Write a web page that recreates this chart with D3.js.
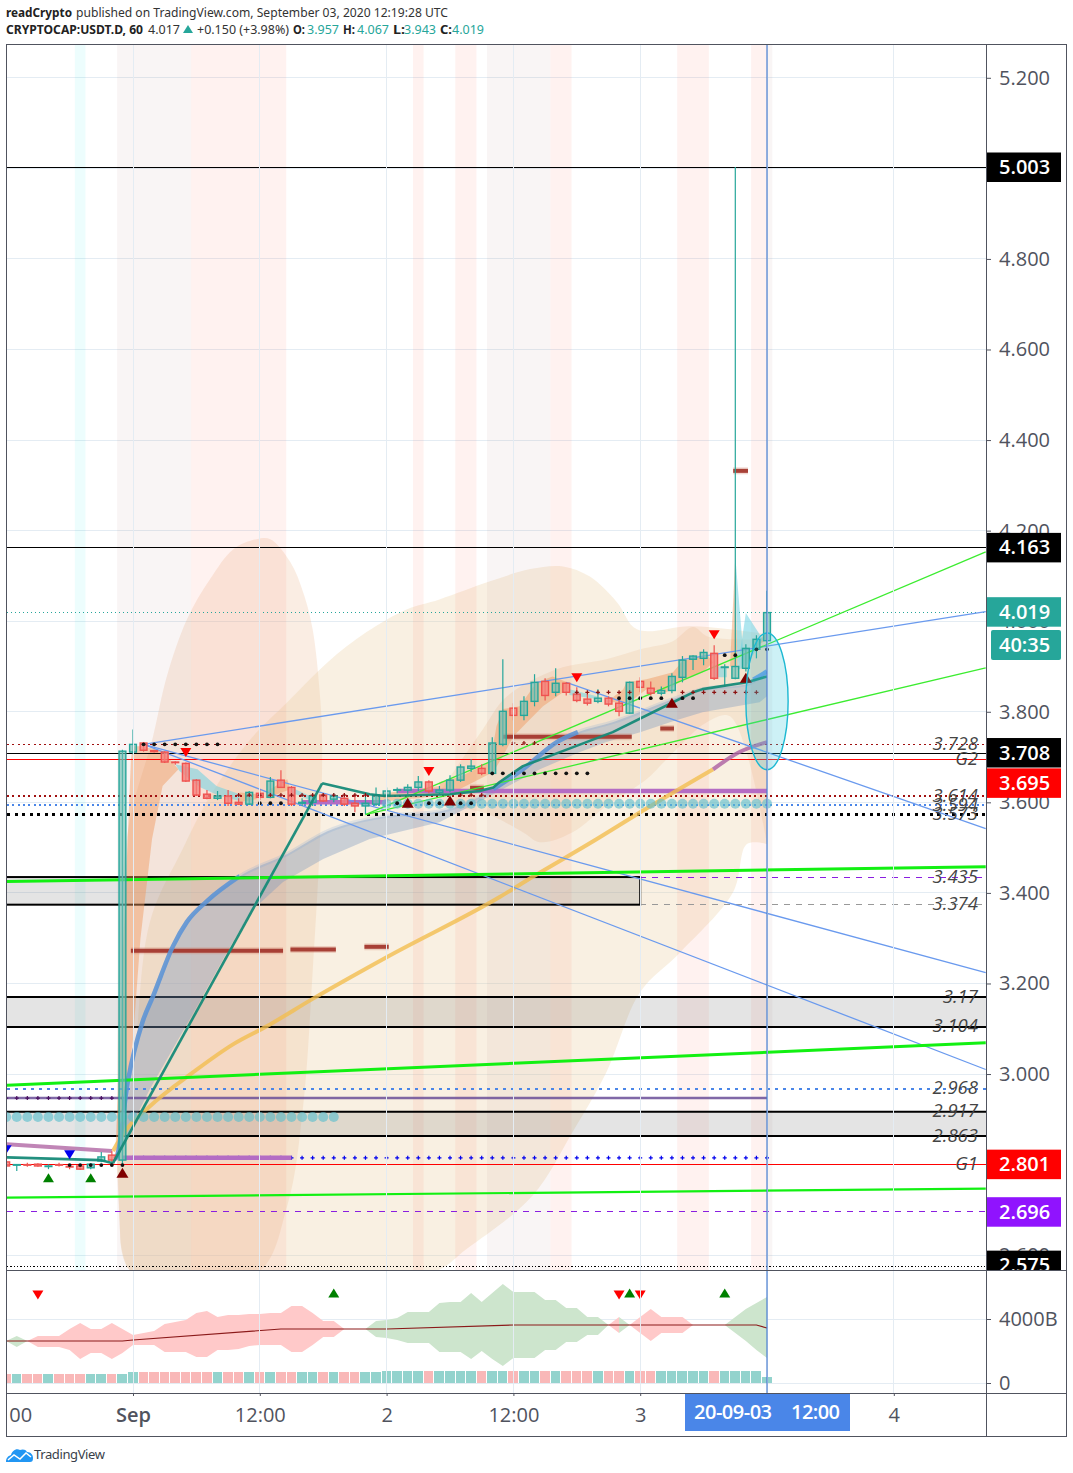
<!DOCTYPE html>
<html><head><meta charset="utf-8">
<script src="https://cdn.jsdelivr.net/npm/d3@7"></script>
<style>html,body{margin:0;padding:0;background:#fff}svg{display:block}text{font-family:"Open Sans",sans-serif}</style>
</head><body><svg id="c" width="1073" height="1473"></svg>
<script>
// ---------- DATA ----------
const priceTicks=[5.2,5.0,4.8,4.6,4.4,4.2,4.0,3.8,3.6,3.4,3.2,3.0,2.8,2.6];
const hiddenTickLabels=[5.0,2.8];
const timeTicks=[-12,0,12,24,36,48,60,72];
const timeLabels=["12:00","Sep","12:00","2","12:00","3","12:00","4"];
const hours=d3.range(-12,61);
const opens=[2.806,2.799,2.800,2.801,2.796,2.800,2.796,2.797,2.793,2.808,2.821,2.810,3.711,3.731,3.714,3.711,3.689,3.686,3.649,3.618,3.609,3.614,3.600,3.596,3.620,3.611,3.649,3.633,3.598,3.600,3.616,3.607,3.609,3.598,3.592,3.596,3.616,3.627,3.627,3.633,3.645,3.622,3.627,3.649,3.675,3.675,3.664,3.728,3.808,3.792,3.823,3.867,3.843,3.863,3.839,3.828,3.823,3.830,3.819,3.797,3.867,3.852,3.841,3.847,3.876,3.916,3.918,3.929,3.898,3.874,3.896,3.938,3.957];
const highs=[2.808,2.801,2.804,2.803,2.801,2.804,2.801,2.799,2.803,2.828,2.830,3.716,3.761,3.733,3.716,3.713,3.691,3.688,3.651,3.627,3.625,3.627,3.609,3.625,3.629,3.656,3.671,3.636,3.609,3.618,3.620,3.620,3.620,3.618,3.616,3.633,3.633,3.633,3.640,3.658,3.649,3.636,3.660,3.684,3.695,3.684,3.744,3.916,3.819,3.834,3.883,3.874,3.896,3.865,3.854,3.839,3.850,3.834,3.828,3.867,3.876,3.867,3.856,3.885,3.923,3.925,3.938,3.947,3.905,5.003,3.949,3.969,4.067];
const lows=[2.795,2.786,2.795,2.795,2.790,2.796,2.790,2.788,2.790,2.805,2.806,2.800,3.706,3.712,3.710,3.687,3.683,3.645,3.614,3.607,3.605,3.592,3.594,3.594,3.605,3.609,3.632,3.592,3.592,3.592,3.601,3.600,3.592,3.578,3.574,3.592,3.600,3.620,3.618,3.625,3.620,3.618,3.622,3.645,3.667,3.660,3.660,3.724,3.781,3.781,3.812,3.825,3.834,3.836,3.821,3.814,3.819,3.812,3.790,3.795,3.843,3.836,3.836,3.841,3.865,3.892,3.903,3.870,3.856,3.872,3.889,3.918,3.943];
const closes=[2.797,2.800,2.799,2.797,2.797,2.799,2.795,2.790,2.801,2.817,2.810,3.713,3.728,3.715,3.712,3.689,3.688,3.647,3.616,3.609,3.614,3.598,3.596,3.622,3.611,3.647,3.633,3.596,3.600,3.614,3.603,3.614,3.596,3.592,3.598,3.616,3.625,3.628,3.633,3.645,3.625,3.627,3.649,3.678,3.680,3.664,3.731,3.801,3.792,3.823,3.865,3.836,3.863,3.843,3.825,3.819,3.830,3.817,3.801,3.865,3.854,3.841,3.847,3.878,3.914,3.923,3.931,3.874,3.899,3.900,3.940,3.960,4.019];
const volumes=[580,580,580,580,580,580,580,580,580,580,580,580,710,710,710,710,710,710,710,710,710,710,710,710,710,710,710,710,710,710,710,710,710,710,710,710,750,750,750,750,750,750,750,750,750,750,750,750,750,750,750,750,750,750,750,750,750,750,750,750,750,750,750,750,750,750,750,750,750,750,750,750,375];
const flowUpper=[2625,2938,2625,2938,2938,2938,3375,3750,3375,3375,3750,3375,3000,3125,3250,3688,3813,3938,4375,4500,4125,4250,4250,4313,4313,4375,4375,4813,4813,4375,3875,3875,3375,3375,3375,3875,3938,4063,4438,4438,4438,5000,5063,5063,5625,5063,5625,6188,5688,5688,5688,5188,5188,4688,4688,4125,4125,3625,4125,3625,4125,4625,4125,4125,4125,3625,3625,3625,3625,4125,4625,5000,5375];
const flowLower=[2625,2250,2625,2250,2250,2250,2063,1500,1875,1875,1500,1875,2375,2375,2375,1938,1938,1938,1625,1625,2063,2063,2125,2313,2375,2375,2375,1938,1938,2375,2875,2875,3375,3375,3375,2875,2813,2688,2500,2500,2500,1938,1938,1938,1500,2000,1500,1063,1563,1563,1563,2063,2063,2563,2563,3000,3000,3625,3125,3625,3125,2625,3125,3125,3125,3625,3625,3625,3625,3125,2625,2063,1563];
const flowRedRanges=[[-10,20],[45,46],[47,53]];
const flowGreenRanges=[[-12,-10],[22,45],[46,47],[56,60]];
const flowLine=[[-12,2625],[-1,2625],[0,2688],[14,3375],[24,3375],[36,3625],[59,3625],[60,3437]];
const flowMarksDown=[[-9,5500],[46,5500],[48,5500]];
const flowMarksUp=[[19,5625],[47,5625],[56,5625]];

const pinkStripes=[[5.5,14.5],[26.5,27.5],[30.5,32.5],[39.5,41.5],[51.5,54.5],[58.5,60]];
const grayStripes=[[-1.5,5.5],[33.5,39.5],[60,60.5]];
const cyanStripes=[[-5.5,-4.5]];

const cloudTall=[[-1.5,2.784],[-0.6,3.519],[1.9,3.746],[3.2,3.878],[5.1,4.004],[7.3,4.093],[9.5,4.159],[11.7,4.181],[13,4.181],[14.9,4.13],[16.1,4.064],[17,3.982],[17.7,3.834],[17.9,3.733],[17.7,3.519],[17,3.225],[16.1,2.929],[14.6,2.709],[11.7,2.56],[0,2.56],[-1.2,2.636]];
const cloudWideTop=[[-1.5,2.819],[0,3.004],[1.6,3.336],[4.7,3.497],[7.3,3.614],[11.1,3.739],[14.6,3.821],[18.4,3.909],[22.1,3.976],[25.9,4.026],[29,4.048],[33.8,4.088],[37.6,4.115],[40.7,4.121],[43.2,4.099],[45.8,4.042],[47.7,3.982],[52.7,3.989],[56.5,3.982],[60,3.971]];
const cloudWideBottom=[[60,3.508],[58.1,3.508],[56.8,3.402],[51.8,3.269],[48,3.181],[44.8,3.004],[41.6,2.872],[37.8,2.731],[31.6,2.614],[28.1,2.56],[0,2.56],[-1.2,2.636]];
const cloudInnerTop=[[29,3.622],[33.1,3.761],[35.4,3.834],[40.1,3.894],[44.8,3.916],[48,3.938],[51.1,3.956],[53,3.987],[54.3,3.967],[56.8,3.96],[60,3.96]];
const cloudInnerBottom=[[60,3.508],[56.5,3.79],[54.3,3.777],[50.5,3.695],[48.6,3.651],[44.8,3.592],[41.6,3.534],[38.5,3.512],[36.9,3.534],[33.1,3.578],[29,3.592]];
const orangeFans=[
 [[-1.7,2.812],[-1.2,3.077],[-0.9,3.298],[-0.5,3.519],[-0.2,3.695],[0,3.724],[0.9,3.724],[2.8,3.713],[4.3,3.673],[2.8,3.636],[1.8,3.519],[0.7,3.298],[0,3.077],[-1.4,2.812]],
 [[10.1,3.622],[11.7,3.618],[11.7,3.607],[10.1,3.6]],
 [[12.7,3.625],[14.6,3.651],[14.9,3.629],[13.2,3.614]],
 [[23.1,3.618],[29,3.636],[29,3.614],[23.1,3.6]],
 [[29,3.645],[30.9,3.656],[33.8,3.689],[34.4,3.768],[35,3.806],[36.6,3.812],[38.2,3.865],[39.7,3.878],[41.1,3.865],[41.1,3.85],[38.8,3.812],[37.6,3.784],[36,3.746],[35,3.702],[34.1,3.667],[30.9,3.629],[29,3.622]],
 [[44.8,3.821],[46.4,3.85],[46.7,3.865],[48.6,3.872],[51.1,3.887],[52,3.912],[54.3,3.927],[54.9,3.909],[53.9,3.887],[52,3.872],[50.5,3.843],[48.6,3.85],[47,3.821]],
 [[56.5,3.9],[57,4.143],[57.2,3.9]],
 [[58.6,3.938],[60,3.978],[60,3.96]]
];
const cyanFans=[
 [[4,3.684],[6.1,3.673],[7.9,3.636],[10.1,3.618],[10.1,3.603],[8.2,3.614],[6.3,3.634],[4.4,3.669]],
 [[15,3.633],[17.4,3.607],[17.4,3.598],[15,3.622]],
 [[41.3,3.85],[43.9,3.834],[43.9,3.828],[41.3,3.837]],
 [[54.9,3.903],[56.2,3.896],[56.2,3.876],[54.9,3.876]],
 [[57,4.143],[57.7,3.945],[57.2,3.9]],
 [[58,4.018],[59.6,3.96],[58,3.9],[57.2,3.892]]
];
const ribbonTop=[[-1.7,2.812],[-1.5,2.819],[-0.5,2.982],[0.9,3.115],[1.9,3.172],[3.8,3.283],[5.1,3.336],[7,3.382],[10.1,3.437],[14.6,3.486],[18.4,3.536],[23.7,3.569],[29,3.58],[34.1,3.629],[36.9,3.673],[40.1,3.733],[42.1,3.755],[45.4,3.777],[51.1,3.828],[53.9,3.85],[58.1,3.861],[60,3.89]];
const ribbonBottom=[[60,3.834],[59.3,3.821],[53.9,3.799],[51.1,3.779],[48,3.755],[44.8,3.733],[42.3,3.711],[38.5,3.673],[34.4,3.622],[29,3.556],[22.4,3.519],[18,3.475],[14.2,3.424],[11.1,3.358],[8.9,3.269],[6.3,3.159],[1.6,2.967],[-1.7,2.812]];
const blueStrong=[[-1.7,2.812],[-1.5,2.819],[-0.5,2.982],[0.9,3.115],[1.9,3.172],[3.8,3.283],[5.1,3.336],[7,3.382],[10.1,3.437]];
const blueMid=[[34.1,3.629],[36.9,3.673],[40.1,3.733],[42.1,3.755]];
const blueTail=[[58.7,3.871],[60,3.889]];
const tealLineFlat=[[-12,2.816],[-3.1,2.81],[-1.9,2.803]];
const tealLineRise=[[-1.9,2.803],[17.9,3.642]];
const tealLineRest=[[17.9,3.642],[22.4,3.618],[23.8,3.614],[30,3.618],[32.8,3.625],[34.1,3.633],[34.7,3.645],[36.9,3.68],[41.1,3.717],[45.4,3.755],[49.2,3.799],[53,3.843],[53.9,3.85],[58.1,3.865],[60,3.878]];
const yellowLine=[[-1.9,2.83],[-0.8,2.872],[1.6,2.929],[5.7,3.004],[9.5,3.066],[12.7,3.106],[17,3.166],[24,3.258],[34.7,3.391],[37.8,3.435],[43.9,3.519],[48,3.578],[54.9,3.673]];
const mauveEnd=[[54.9,3.673],[57.4,3.711],[60,3.733]];
const mauveStart=[[-12,2.845],[-2,2.83]];
const trendUp=[[1,3.728],[80.7,4.021]];
const trendDownA=[[1,3.728],[80.7,3.224]];
const trendDownB=[[1,3.728],[80.7,3.01]];
const trendDownC=[[41,3.865],[80.7,3.542]];
const greenThinA=[[22,3.573],[80.7,4.153]];
const greenThinB=[[22,3.573],[80.7,3.897]];
const greenBoldA=[[-12,3.425],[80.7,3.458]];
const greenBoldB=[[-12,2.975],[80.7,3.069]];
const greenBoldC=[[-12,2.727],[80.7,2.747]];
const purpleFlats=[[-1,15,2.815],[16,24,3.6],[25,60,3.625]];
const purpleDark=[-12,60,2.947];
const brickSegments=[[-0.2,14.2,3.272],[14.9,19.2,3.275],[21.9,24.2,3.281],[31.9,33.2,3.632],[35,47.2,3.745],[49.9,51.2,3.763],[56.8,58.2,4.332]];
const triDown=[[5,3.71],[28,3.668],[42,3.875],[55,3.97]];
const triDarkUp=[[-1,2.782],[26,3.599],[30,3.604],[51,3.82],[58,3.875]];
const triGreenUp=[[-8,2.771],[-4,2.771]];
const triBlueDown=[[-6,2.822],[-12,2.833]];
const circleRowA=[d3.range(-12,20),2.905];
const circleRowB=[d3.range(24,61),3.597];
const dotRows=[[d3.range(1,9),3.728],[[12,13,14,25,28,29,31,32],3.598],[d3.range(34,44),3.664],[[46,47,48,49,50,52,53],3.83],[[56,57],3.925],[[59,60],3.938],[[-6,-5,-4,-3,-2,-1],2.799]];
const redPlusRows=[[[36,37,38],3.731],[[10,11,12,13,14,15,16,17,18,19,20,21,22,31,32,33],3.616],[[42,43,44,45,46,47,52,53,54,55,56,57,58,59],3.843]];
const bluePlusRow=[d3.range(0,61),2.815];
const darkPlusRow=[d3.range(-12,0),2.947];
const zoneFull=[[3.17,3.104],[2.917,2.863]];
const zoneShort=[3.435,3.374];
const fanEllipse={hour:60,halfHours:2,top:3.974,bottom:3.672};
const blackLevels=[5.003,4.163];
const labelLevels=[[3.728,"3.728"],[3.695,"G2"],[3.614,"3.614"],[3.594,"3.594"],[3.573,"3.573"],[3.435,"3.435"],[3.374,"3.374"],[3.17,"3.17"],[3.104,"3.104"],[2.968,"2.968"],[2.917,"2.917"],[2.863,"2.863"],[2.801,"G1"]];
// value, label, colour, price at which the label box sits after it was pushed clear of its neighbour
const priceBoxes=[[5.003,"5.003","#000",5.003],[4.163,"4.163","#000",4.163],[4.019,"4.019","#26a69a",4.021],[3.708,"3.708","#000",3.71],[3.695,"3.695","#ff0000",3.643],[2.801,"2.801","#ff0000",2.801],[2.696,"2.696","#9013fe",2.696],[2.575,"2.575","#000",2.578]];

// ---------- LAYOUT ----------
const L=7,R=986,T=44,B=1270,F=1393;
const x=d3.scaleLinear().domain([0,12]).range([133,259.8]);
const y=d3.scaleLinear().domain([5.003,2.575]).range([167,1266.5]);
const v=d3.scaleLinear().domain([0,4000]).range([1383,1319]);
const svg=d3.select("#c");
const defs=svg.append("defs");
defs.append("clipPath").attr("id","pane").append("rect").attr("x",L).attr("y",T).attr("width",R-L).attr("height",B-T);
defs.append("clipPath").attr("id","lower").append("rect").attr("x",L).attr("y",B).attr("width",R-L).attr("height",F-B);
defs.append("clipPath").attr("id","timeaxis").append("rect").attr("x",9).attr("y",F).attr("width",R-9).attr("height",44);
const main=svg.append("g").attr("clip-path","url(#pane)");
const low=svg.append("g").attr("clip-path","url(#lower)");
const line=d3.line().x(d=>x(d[0])).y(d=>y(d[1]));
const smooth=d3.line().x(d=>x(d[0])).y(d=>y(d[1])).curve(d3.curveCatmullRom.alpha(.5));
const mono=d3.line().x(d=>x(d[0])).y(d=>y(d[1])).curve(d3.curveMonotoneX);
const poly=d=>line(d)+"Z";
const gridC="#e4ecf3";

// grid
main.selectAll(".gh").data(priceTicks).join("line").attr("x1",L).attr("x2",R).attr("y1",d=>y(d)).attr("y2",d=>y(d)).attr("stroke",gridC).attr("shape-rendering","crispEdges");
svg.append("g").selectAll("line").data(timeTicks).join("line").attr("x1",d=>x(d)).attr("x2",d=>x(d)).attr("y1",T).attr("y2",F).attr("stroke",gridC).attr("shape-rendering","crispEdges");
low.selectAll(".gv").data([0,4000]).join("line").attr("x1",L).attr("x2",R).attr("y1",d=>v(d)).attr("y2",d=>v(d)).attr("stroke",gridC).attr("shape-rendering","crispEdges");

// clouds
main.append("path").attr("d",smooth(cloudTall)+"Z").attr("fill","rgba(235,190,150,.27)");
main.append("path").attr("d",smooth(cloudWideTop)+smooth(cloudWideBottom).replace("M","L")+"Z").attr("fill","rgba(235,205,160,.3)");
main.append("path").attr("d",smooth(cloudInnerTop)+smooth(cloudInnerBottom).replace("M","L")+"Z").attr("fill","rgba(235,190,150,.25)");

// stripes
const stripe=(a,c)=>main.append("g").selectAll("rect").data(a).join("rect").attr("x",d=>x(d[0])).attr("width",d=>x(d[1])-x(d[0])).attr("y",T).attr("height",B-T).attr("fill",c);
stripe(pinkStripes,"rgba(255,90,70,.08)");
stripe(grayStripes,"rgba(170,110,120,.07)");
stripe(cyanStripes,"rgba(0,220,230,.07)");

// zones
zoneFull.forEach(z=>{
 main.append("rect").attr("x",L).attr("width",R-L).attr("y",y(z[0])).attr("height",y(z[1])-y(z[0])).attr("fill","rgba(120,120,120,.2)");
 z.forEach(p=>main.append("line").attr("x1",L).attr("x2",R).attr("y1",y(p)).attr("y2",y(p)).attr("stroke","#000").attr("stroke-width",2));
});
main.append("rect").attr("x",L-4).attr("width",x(48)-L+4).attr("y",y(zoneShort[0])).attr("height",y(zoneShort[1])-y(zoneShort[0])).attr("fill","rgba(120,120,120,.2)").attr("stroke","#000").attr("stroke-width",2);

// fans
orangeFans.forEach(p=>main.append("path").attr("d",poly(p)).attr("fill","rgba(240,150,90,.45)"));
cyanFans.forEach(p=>main.append("path").attr("d",poly(p)).attr("fill","rgba(110,210,225,.55)"));
main.append("path").attr("d",mono(ribbonTop)+line(ribbonBottom).replace("M","L")+"Z").attr("fill","rgba(120,150,190,.36)");

// level lines
const hl=(p,c,w,dash,from)=>main.append("line").attr("x1",from==null?L:x(from)).attr("x2",R).attr("y1",y(p)).attr("y2",y(p)).attr("stroke",c).attr("stroke-width",w).attr("stroke-dasharray",dash||null).attr("shape-rendering","crispEdges");
blackLevels.forEach(p=>hl(p,"#000",1));
hl(4.019,"#26a69a",1,"1,3");
hl(3.708,"#000",1.5);
hl(3.695,"#f00",1.3);
hl(2.801,"#f00",1.3);
hl(3.728,"#a01010",1.4,"2,3.3");
hl(3.614,"#a01010",1.4,"2,3.3");
hl(3.594,"#4a86e8",1.4,"2,3.3");
hl(3.573,"#000",2.5,"3,4.5");
hl(2.968,"#4a86e8",2,"2.5,5.5");
hl(3.435,"#8a1ee0",1,"6,6",48);
hl(3.374,"#999",1,"6,6",48);
hl(2.696,"#8a1ee0",1,"6,6");
hl(2.575,"#000",1.4,"1.3,2");

// flat purple, brick segments
const seg=(a,b,p,c,w,o)=>main.append("line").attr("x1",x(a)).attr("x2",x(b)).attr("y1",y(p)).attr("y2",y(p)).attr("stroke",c).attr("stroke-width",w).attr("opacity",o||1);
const plus=(r,c)=>main.append("g").selectAll("path").data(r[0]).join("path").attr("d",d=>{const a=x(d),b=y(r[1]);return `M${a-2},${b}H${a+2}M${a},${b-2}V${b+2}`}).attr("stroke",c).attr("stroke-width",1.2);
seg(purpleDark[0],purpleDark[1],purpleDark[2],"#6a4e98",2.6,.85);
plus(bluePlusRow,"#0000ee");
plus(darkPlusRow,"#4a1060");
purpleFlats.forEach(s=>seg(s[0],s[1],s[2],"#b46cc4",4.5));
brickSegments.forEach(s=>{seg(s[0],s[1],s[2],"rgba(210,130,110,.3)",7);seg(s[0],s[1],s[2],"#a5392f",4,.95);});

// curves
const curve=(d,c,w,o,gen)=>main.append("path").attr("d",(gen||line)(d)).attr("fill","none").attr("stroke",c).attr("stroke-width",w).attr("opacity",o||1).attr("stroke-linejoin","round");
curve(yellowLine,"#f3be50",4,.8,mono);
curve(mauveEnd,"#b066a4",4,.85,mono);
curve(mauveStart,"#b066a4",4,.8,mono);
curve(ribbonTop,"#6a9ad8",4,.18,mono);
curve(blueStrong,"#5b93d6",4.5,.85,mono);
curve(blueMid,"#5b93d6",4.5,.85,mono);
curve(blueTail,"#5b93e6",4.5,.85);
[trendUp,trendDownA,trendDownB,trendDownC].forEach(d=>curve(d,"#6a9aee",1.3));
[greenThinA,greenThinB].forEach(d=>curve(d,"#3cec30",1.3));
curve(greenBoldA,"#12f012",3);
curve(greenBoldB,"#12f012",3);
curve(greenBoldC,"#12f012",2.2);

// circles
[circleRowA,circleRowB].forEach(r=>main.append("g").selectAll("circle").data(r[0]).join("circle").attr("cx",d=>x(d)).attr("cy",y(r[1])).attr("r",5).attr("fill","rgba(90,190,205,.62)"));

// candles
const up=i=>closes[i]>=opens[i];
const teal="#26a69a",red="#ef5350";
const cg=main.append("g");
cg.selectAll(".w").data(hours).join("line").attr("x1",d=>x(d)).attr("x2",d=>x(d)).attr("y1",(d,i)=>y(highs[i])).attr("y2",(d,i)=>y(lows[i])).attr("stroke",(d,i)=>up(i)?teal:red).attr("stroke-width",1.2);
cg.selectAll(".b").data(hours).join("rect").attr("x",d=>x(d)-3.4).attr("width",6.8).attr("y",(d,i)=>y(Math.max(opens[i],closes[i]))).attr("height",(d,i)=>Math.max(.6,Math.abs(y(opens[i])-y(closes[i])))).attr("fill",(d,i)=>up(i)?"rgba(110,190,180,.65)":"rgba(245,130,125,.8)").attr("stroke",(d,i)=>up(i)?teal:red).attr("stroke-width",1.4);

// teal line
curve(tealLineFlat,"#168a78",2.6,.95);
curve(tealLineRise,"#168a78",2.6,.95);
curve(tealLineRest,"#168a78",2.6,.95);

// dots and plus marks
dotRows.forEach(r=>main.append("g").selectAll("circle").data(r[0]).join("circle").attr("cx",d=>x(d)).attr("cy",y(r[1])).attr("r",1.9).attr("fill","#111"));
redPlusRows.forEach(r=>plus(r,"#8b1010"));

// triangles
const tri=(g,list,xf,yf,c,w,h,dir)=>g.append("g").selectAll("path").data(list).join("path").attr("d",d=>{const a=xf(d[0]),b=yf(d[1]);return dir>0?`M${a-w/2},${b+h/2}L${a+w/2},${b+h/2}L${a},${b-h/2}Z`:`M${a-w/2},${b-h/2}L${a+w/2},${b-h/2}L${a},${b+h/2}Z`}).attr("fill",c);
tri(main,triDown,x,y,"#ff0000",11,9,-1);
tri(main,triDarkUp,x,y,"#7f0000",12,10,1);
tri(main,triGreenUp,x,y,"#008000",11,9,1);
tri(main,triBlueDown,x,y,"#0000ee",11,9,-1);

// ellipse
main.append("ellipse").attr("cx",x(fanEllipse.hour)).attr("cy",(y(fanEllipse.top)+y(fanEllipse.bottom))/2).attr("rx",x(fanEllipse.halfHours)-x(0)).attr("ry",(y(fanEllipse.bottom)-y(fanEllipse.top))/2).attr("fill","rgba(60,200,220,.26)").attr("stroke","#1cb8d2").attr("stroke-width",1.4);

// crosshair
svg.append("line").attr("x1",x(60)).attr("x2",x(60)).attr("y1",T).attr("y2",F).attr("stroke","#4a7fd0").attr("stroke-width",1.2);

// italic level labels
main.append("g").selectAll("text").data(labelLevels).join("text").attr("x",978).attr("y",d=>y(d[0])).attr("dy",".3em").attr("text-anchor","end").attr("font-size",18.5).attr("font-style","italic").attr("fill","#444").text(d=>d[1]);

// lower pane
const barLeft=d=>Math.round(x(d)-5);
low.append("g").selectAll("rect").data(hours).join("rect").attr("x",d=>barLeft(d)).attr("width",d=>barLeft(d+1)-barLeft(d)-1).attr("y",(d,i)=>v(volumes[i])).attr("height",(d,i)=>v(0)-v(volumes[i])).attr("fill",(d,i)=>up(i)?"#93d3cd":"#f9b8b8").attr("shape-rendering","crispEdges");
const flowArea=d3.area().x(d=>x(d)).y0(d=>v(flowLower[d+12])).y1(d=>v(flowUpper[d+12]));
const rangeHours=r=>d3.range(r[0],r[1]+1);
flowRedRanges.forEach(r=>low.append("path").attr("d",flowArea(rangeHours(r))).attr("fill","#ffc9c9"));
flowGreenRanges.forEach(r=>low.append("path").attr("d",flowArea(rangeHours(r))).attr("fill","#cde5cd"));
low.append("path").attr("d",d3.line().x(d=>x(d[0])).y(d=>v(d[1]))(flowLine)).attr("fill","none").attr("stroke","#8b1a1a").attr("stroke-width",1.2);
tri(low,flowMarksDown,x,v,"#ff0000",11,9,-1);
tri(low,flowMarksUp,x,v,"#008000",11,9,1);

// frame
const border="#50535e";
svg.append("rect").attr("x",6.5).attr("y",44.5).attr("width",1060).attr("height",1392).attr("fill","none").attr("stroke",border);
[[R+.5,T,R+.5,1437],[6,B+.5,1067,B+.5],[6,F+.5,1067,F+.5]].forEach(a=>svg.append("line").attr("x1",a[0]).attr("y1",a[1]).attr("x2",a[2]).attr("y2",a[3]).attr("stroke",border));

// axes
const axisC="#50535e";
const styleAxis=g=>{g.select(".domain").remove();g.selectAll("line").attr("stroke",axisC);g.selectAll("text").attr("fill",axisC).attr("font-size",20);};
svg.append("g").attr("transform",`translate(${R},0)`).call(d3.axisRight(y).tickValues(priceTicks.filter(p=>!hiddenTickLabels.includes(p))).tickFormat(d3.format(".3f")).tickSize(5).tickPadding(8)).call(styleAxis);
svg.append("g").attr("transform",`translate(${R},0)`).call(d3.axisRight(v).tickValues([0,4000]).tickFormat(d=>d?"4000B":"0").tickSize(5).tickPadding(8)).call(styleAxis);
const xa=svg.append("g").attr("clip-path","url(#timeaxis)").append("g").attr("transform",`translate(0,${F})`).call(d3.axisBottom(x).tickValues(timeTicks).tickFormat((d,i)=>timeLabels[i]).tickSize(3).tickPadding(12)).call(styleAxis);
xa.selectAll("text").attr("font-weight",d=>d===0?600:400);

// price boxes
const pb=svg.append("g");
priceBoxes.forEach(b=>{
 const cy=y(b[3]);
 pb.append("rect").attr("x",R+1).attr("y",cy-14.5).attr("width",74).attr("height",29.5).attr("fill",b[2]);
 pb.append("text").attr("x",999).attr("y",cy).attr("dy",".35em").attr("font-size",20).attr("font-weight",600).attr("fill","#fff").text(b[1]);
});
svg.append("rect").attr("x",R+1).attr("y",B+.5).attr("width",79).attr("height",20).attr("fill","#fff");
svg.append("line").attr("x1",6).attr("x2",1067).attr("y1",B+.5).attr("y2",B+.5).attr("stroke",border);
svg.append("line").attr("x1",1066.5).attr("x2",1066.5).attr("y1",B).attr("y2",B+21).attr("stroke",border);
const cd=svg.append("g");
cd.append("rect").attr("x",991).attr("y",630).attr("width",70).attr("height",30).attr("rx",2).attr("fill","#26a69a");
cd.append("text").attr("x",999).attr("y",645).attr("dy",".35em").attr("font-size",20).attr("font-weight",600).attr("fill","#fff").text("40:35");

// crosshair time label
svg.append("rect").attr("x",685).attr("y",F+1).attr("width",165).attr("height",37).attr("fill","#4a86e8");
svg.append("text").attr("x",694).attr("y",1419).attr("font-size",20).attr("fill","#fff").attr("font-weight",600).attr("textLength",78).text("20-09-03");
svg.append("text").attr("x",791).attr("y",1419).attr("font-size",20).attr("fill","#fff").attr("font-weight",600).attr("textLength",49).text("12:00");

// header
const hdr=(t,xp,yp,w,o={})=>svg.append("text").attr("x",xp).attr("y",yp).attr("font-size",12).attr("textLength",w).attr("lengthAdjust","spacingAndGlyphs").attr("font-weight",o.b?700:400).attr("fill",o.c||"#333").style("font-family","'Noto Sans',sans-serif").text(t);
hdr("readCrypto",6,17,66,{b:1,c:"#222"});
hdr("published on TradingView.com, September 03, 2020 12:19:28 UTC",76,17,372);
hdr("CRYPTOCAP:USDT.D, 60",6,34,137,{b:1,c:"#222"});
hdr("4.017",148,34,32);
svg.append("path").attr("d","M183,33L193,33L188,25Z").attr("fill","#26a69a");
hdr("+0.150 (+3.98%)",197,34,92);
[["O:",293,"3.957",307],["H:",343,"4.067",357],["L:",393,"3.943",404],["C:",440,"4.019",452]].forEach(a=>{hdr(a[0],a[1],34,12,{b:1,c:"#222"});hdr(a[2],a[3],34,32,{c:"#26a69a"});});

// footer
svg.append("path").attr("d","M6,1462c0-4 2-6 5-7c1-4 5-7 9-5c2-1 6-1 7 2c4 0 6 3 6 6c0 3-1 4-3 4Z").attr("fill","#2196f3");
svg.append("path").attr("d","M8,1460l6-5l6,4l6-6l5,4").attr("fill","none").attr("stroke","#fff").attr("stroke-width",1.5);
svg.append("text").attr("x",34).attr("y",1459).attr("font-size",13).attr("fill","#3a3f4b").attr("textLength",71).style("font-family","'Noto Sans',sans-serif").text("TradingView");
</script></body></html>
